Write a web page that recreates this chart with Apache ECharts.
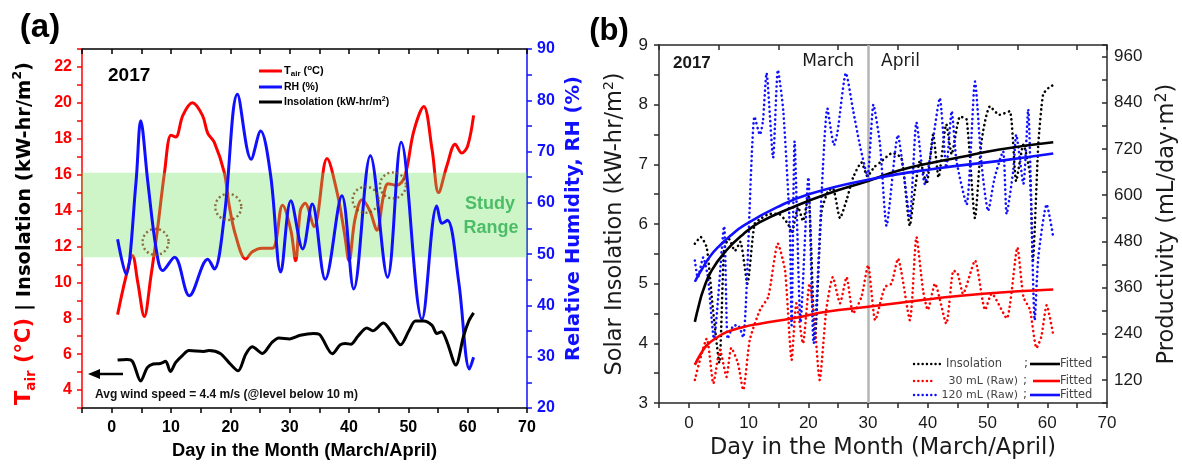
<!DOCTYPE html>
<html>
<head>
<meta charset="utf-8">
<script src="https://cdn.jsdelivr.net/npm/echarts@6/dist/echarts.min.js"></script>
<style>
  html, body { margin: 0; padding: 0; background: #fff; }
  #chart { width: 1182px; height: 465px; }
</style>
</head>
<body>
<div id="chart"></div>
<script>
// ---------- Panel (a): daily weather, March/April 2017 ----------
const tairDays = [1, 2.4, 3.5, 4.4, 5.5, 6.6, 7.7, 8.9, 10, 10.8,
  12, 13.6, 15.3, 16.2, 17.3, 19, 19.8, 20.9, 22.6, 23.7,
  25.3, 27.1, 28.8, 30.2, 31, 31.8, 32.6, 34.1, 36.3, 38,
  39.3, 40, 41, 42.2, 43.5, 44.7, 45.8, 46.6, 48, 49.4,
  50.9, 52.6, 54, 55.1, 56.5, 57.9, 59, 60, 61];
const tairC = [8.2, 10.3, 11.5, 10.0, 8.1, 10.3, 12.9, 16.1, 18.2, 18.1,
  19.3, 20.0, 19.3, 18.3, 17.8, 16.1, 14.3, 12.6, 11.3, 11.7,
  11.9, 11.9, 14.3, 12.9, 11.2, 14.0, 14.4, 13.1, 16.9, 15.0,
  12.6, 11.2, 13.5, 14.6, 14.0, 12.9, 14.8, 15.5, 15.4, 15.9,
  18.4, 19.8, 17.4, 15.0, 16.5, 17.7, 17.2, 17.6, 19.3];

const rhDays = [1, 2.4, 4.1, 4.9, 6.1, 7.5, 8.6, 10.6, 13.1, 16.2,
  17.3, 19, 21.2, 23.5, 25.1, 26.8, 28.5, 30.2, 32.2, 33.8,
  36, 38.8, 40.8, 43.6, 46.5, 48.8, 52.3, 54.8, 55.7, 56.6,
  58.5, 60.3, 61];
const rhPct = [52.9, 46.1, 64, 76, 64, 51, 46.8, 49.4, 41.9, 49,
  47.1, 57.5, 81.2, 68.5, 74, 65.3, 46.5, 60.4, 51, 59.8,
  45.1, 61.4, 43.2, 69.2, 45.5, 71.8, 37.3, 59.4, 56.0, 56.6,
  44.5, 27.6, 29.9];

const insolDaysA = [1, 2.5, 3.5, 4.9, 6, 7, 8.2, 9.1, 9.9, 10.8,
  12, 13, 15.5, 16.4, 18.3, 20, 21.3, 22.6, 23.7, 25.4,
  27, 28.2, 30, 31.8, 34, 35, 37.2, 38.5, 39.4, 40.3,
  41.5, 43, 44, 45.8, 47.2, 48.7, 50.1, 51.2, 52.6, 54,
  54.8, 55.6, 56.5, 58, 59.3, 60.2, 61];
const insolA = [5.67, 5.7, 5.6, 4.5, 5.25, 5.45, 5.48, 5.6, 5.03, 5.54,
  5.95, 6.2, 6.15, 6.2, 6.04, 5.45, 5.07, 6.0, 6.41, 6.04,
  6.65, 6.9, 6.85, 7.05, 7.15, 7.1, 6.02, 6.52, 6.6, 6.55,
  7.0, 7.46, 7.3, 7.74, 7.2, 6.52, 7.3, 7.84, 7.84, 7.6,
  7.15, 7.25, 6.7, 5.4, 7.0, 7.85, 8.3];

const studyRange = [11.4, 16.1];              // shaded band, left-axis units
const circledDays = [7.4, 19.65, 42.8, 47.4]; // highlighted crossings
const circledVals = [12.25, 14.2, 14.6, 15.4];

// ---------- Panel (b): insolation vs. productivity ----------
const insolRawDays = [1, 2, 3, 4, 5.1, 5.9, 6.7, 7.7, 8.6, 9.8,
  11, 12.2, 13.5, 15, 16.6, 17.2, 18.3, 19.1, 20, 21.1,
  22.2, 23.3, 24.1, 25.3, 26.4, 27.5, 28.9, 29.9, 31, 32,
  34.1, 35.6, 37, 37.6, 38.7, 39.8, 40.9, 41.8, 43.1, 44,
  45.4, 46.5, 47.9, 49, 50.4, 52, 53.7, 54.8, 56, 57.1,
  57.6, 58.5, 59.3, 60.2, 61];
const insolRaw = [5.67, 5.78, 5.6, 4.6, 3.67, 5.58, 5.75, 5.55, 5.7, 5.0,
  6.0, 6.1, 6.17, 6.17, 6.0, 5.85, 6.28, 6.05, 6.5, 4.05,
  6.2, 6.55, 6.6, 6.1, 6.4, 6.78, 7.03, 6.8, 6.95, 7.03,
  7.19, 7.1, 5.97, 6.39, 7.06, 6.67, 7.5, 6.78, 7.67, 7.17,
  7.8, 7.75, 6.1, 7.39, 7.97, 7.83, 7.89, 6.72, 7.33, 6.83,
  5.39, 7.33, 8.17, 8.28, 8.33];

const ml30Days = [1, 3, 4.1, 5.2, 6.3, 7.1, 8.2, 9.1, 10.2, 11.9,
  13.3, 14.9, 16.1, 17.2, 18, 19.1, 20.2, 21, 21.9, 23,
  24.1, 25.3, 26.4, 27.5, 28.9, 30, 31.2, 32.8, 33.9, 35,
  37, 38.1, 39.2, 40, 41.2, 43.1, 44.3, 45, 45.9, 47.9,
  49.6, 50.7, 53.2, 55, 56, 57.1, 58.2, 59, 59.9, 61];
const ml30Raw = [120, 227, 111, 198, 128, 203, 164, 94, 224, 302,
  336, 474, 404, 172, 319, 215, 370, 275, 120, 302,
  387, 319, 387, 293, 336, 418, 275, 361, 370, 435,
  275, 491, 353, 302, 370, 266, 404, 396, 344, 430,
  302, 344, 280, 464, 336, 302, 203, 232, 314, 237];

const ml120Days = [1, 1.5, 2.4, 3.2, 4.2, 5.9, 6.5, 7.4, 8.2, 9.1,
  11, 11.9, 12.4, 13, 14.1, 14.9, 15.8, 16.9, 17.2, 17.7,
  18.7, 20, 20.9, 23.2, 24.3, 24.9, 26.3, 27.5, 28.6, 29.9,
  30.9, 32, 33.1, 35, 35.9, 37, 38.1, 39.5, 40.9, 42,
  43.1, 44, 44.8, 46.5, 47.9, 49, 50.1, 51.2, 52.6, 53.2,
  54.3, 54.8, 56, 56.8, 57.9, 58.5, 59.9, 61];
const ml120Raw = [430, 386, 438, 386, 227, 519, 227, 260, 262, 230,
  804, 757, 792, 917, 697, 925, 820, 516, 262, 740,
  270, 646, 215, 825, 730, 765, 917, 820, 732, 649,
  835, 732, 520, 756, 665, 541, 789, 629, 748, 852,
  671, 818, 689, 576, 895, 680, 559, 646, 714, 551,
  663, 757, 629, 823, 275, 438, 576, 491];

const fitInsolDays = [1, 1.7, 2.4, 3.8, 6.3, 9.1, 11.9, 17.4, 23, 30, 35.3, 40.9, 46.5, 52, 61];
const fitInsol = [4.36, 4.65, 4.89, 5.22, 5.56, 5.83, 6.03, 6.28, 6.5, 6.72, 6.9, 7.03, 7.14, 7.25, 7.37];
const fit30Days = [1, 2, 3, 4.5, 6.3, 9, 11.9, 17.4, 23, 30, 40.9, 49.3, 61];
const fit30 = [159, 188, 210, 228, 244, 257, 266, 280, 297, 310, 331, 344, 355];
const fit120Days = [1, 1.7, 2.4, 3.5, 4.9, 7, 9.1, 14.7, 20.2, 30, 40.9, 52, 61];
const fit120 = [375, 395, 413, 440, 465, 495, 520, 568, 603, 640, 668, 689, 708];

const monthSplitDay = 30;

// ---------- helpers ----------
const FONT = '"Liberation Sans", Arial, Helvetica, sans-serif';
const WIDE = '"DejaVu Sans", Verdana, sans-serif';
const RED = '#ff0000', BLUE = '#1010ff', INK = '#000000', GREY = '#2a2a2a';
const zip = (xs, ys) => xs.map((x, i) => [x, ys[i]]);
const dotted = [0.1, 4.6];

function xAxisBottom(gridIndex, opts) {
  return Object.assign({
    gridIndex, type: 'value', min: -5, max: 70, interval: 5, position: 'bottom',
    axisLine: { onZero: false, lineStyle: { color: INK, width: 1.5 } },
    axisTick: { inside: false, length: 5, lineStyle: { color: INK, width: 1.5 } },
    splitLine: { show: false },
    nameLocation: 'middle'
  }, opts);
}
function xAxisTop(gridIndex, interval, color) {
  return {
    gridIndex, type: 'value', min: -5, max: 70, interval, position: 'top',
    axisLine: { onZero: false, lineStyle: { color, width: 1.5 } },
    axisTick: { inside: true, length: 5, lineStyle: { color, width: 1.5 } },
    axisLabel: { show: false }, splitLine: { show: false }
  };
}

const chart = echarts.init(document.getElementById('chart'), null, { renderer: 'canvas' });

const option = {
  backgroundColor: '#ffffff',
  animation: false,
  textStyle: { fontFamily: FONT },
  grid: [
    { left: 82, top: 49, width: 445, height: 359 },
    { left: 659, top: 45, width: 448, height: 360 }
  ],
  xAxis: [
    xAxisBottom(0, {
      axisLabel: { margin: 12, color: INK, fontSize: 16, fontWeight: 'bold', fontFamily: FONT,
        formatter: v => (v % 10 === 0 ? String(v) : '') },
      name: 'Day in the Month (March/April)', nameGap: 34,
      nameTextStyle: { color: INK, fontSize: 18.3, fontWeight: 'bold', fontFamily: FONT }
    }),
    xAxisTop(0, 5, INK),
    xAxisBottom(1, {
      axisLine: { onZero: false, lineStyle: { color: GREY, width: 1.5 } },
      axisTick: { length: 5, lineStyle: { color: GREY, width: 1.5 } },
      axisLabel: { margin: 12, color: '#1a1a1a', fontSize: 17, fontFamily: FONT,
        formatter: v => (v % 10 === 0 ? String(v) : '') },
      name: 'Day in the Month (March/April)', nameGap: 34,
      nameTextStyle: { color: '#1a1a1a', fontSize: 22.5, fontFamily: WIDE }
    }),
    xAxisTop(1, 10, GREY)
  ],
  yAxis: [
    {
      gridIndex: 0, type: 'value', min: 3, max: 23, interval: 1, position: 'left',
      axisLine: { show: true, onZero: false, lineStyle: { color: RED, width: 1.5 } },
      axisTick: { show: true, length: 5, lineStyle: { color: RED, width: 1.5 } },
      axisLabel: { margin: 10, color: RED, fontSize: 16, fontWeight: 'bold', fontFamily: FONT,
        formatter: v => (v % 2 === 0 ? String(v) : '') },
      splitLine: { show: false },
      name: '{r|T}{rs|air}{r| (°C)}{k| | Insolation (kW-hr/m}{ks|2}{k|)}',
      nameLocation: 'middle', nameRotate: 90, nameGap: 44,
      nameTextStyle: {
        padding: [0, 10, 0, 0],
        rich: {
          r: { color: RED, fontSize: 21, fontWeight: 'bold', fontFamily: WIDE, lineHeight: 27 },
          rs: { color: RED, fontSize: 13.5, fontWeight: 'bold', fontFamily: WIDE, lineHeight: 14, verticalAlign: 'bottom' },
          k: { color: INK, fontSize: 19.5, fontWeight: 'bold', fontFamily: WIDE, lineHeight: 27 },
          ks: { color: INK, fontSize: 12.5, fontWeight: 'bold', fontFamily: WIDE, lineHeight: 13, verticalAlign: 'top' }
        }
      }
    },
    {
      gridIndex: 0, type: 'value', min: 20, max: 90, interval: 5, position: 'right',
      axisLine: { show: true, onZero: false, lineStyle: { color: BLUE, width: 1.5 } },
      axisTick: { show: true, length: 5, lineStyle: { color: BLUE, width: 1.5 } },
      axisLabel: { margin: 10, color: BLUE, fontSize: 16, fontWeight: 'bold', fontFamily: FONT,
        formatter: v => (v % 10 === 0 ? String(v) : '') },
      splitLine: { show: false },
      name: 'Relative Humidity, RH (%)', nameLocation: 'middle', nameRotate: 90, nameGap: 37,
      nameTextStyle: { color: BLUE, fontSize: 19.5, fontWeight: 'bold', fontFamily: WIDE, padding: [0, 0, 0, 20] }
    },
    {
      gridIndex: 1, type: 'value', min: 3, max: 9, interval: 0.5, position: 'left',
      axisLine: { show: true, onZero: false, lineStyle: { color: GREY, width: 1.5 } },
      axisTick: { show: true, length: 5, lineStyle: { color: GREY, width: 1.5 } },
      axisLabel: { margin: 11, color: '#1a1a1a', fontSize: 17, fontFamily: FONT,
        formatter: v => (Number.isInteger(v) ? String(v) : '') },
      splitLine: { show: false },
      name: '{n|Solar Insolation (kW-hr/m}{s|2}{n|)}',
      nameLocation: 'middle', nameRotate: 90, nameGap: 31,
      nameTextStyle: {
        rich: {
          n: { color: '#1a1a1a', fontSize: 22.5, fontFamily: WIDE, lineHeight: 26 },
          s: { color: '#1a1a1a', fontSize: 14, fontFamily: WIDE, lineHeight: 14, verticalAlign: 'top' }
        }
      }
    },
    {
      gridIndex: 1, type: 'value', min: 60, max: 990, interval: 60, position: 'right',
      axisLine: { show: true, onZero: false, lineStyle: { color: GREY, width: 1.5 } },
      axisTick: { show: true, inside: true, length: 5, lineStyle: { color: GREY, width: 1.5 } },
      axisLabel: { margin: 7, color: '#1a1a1a', fontSize: 17, fontFamily: FONT,
        formatter: v => (v % 120 === 0 ? String(v) : '') },
      splitLine: { show: false },
      name: '{n|Productivity (mL/day·m}{s|2}{n|)}',
      nameLocation: 'middle', nameRotate: 90, nameGap: 47,
      nameTextStyle: {
        rich: {
          n: { color: '#1a1a1a', fontSize: 22.5, fontFamily: WIDE, lineHeight: 26 },
          s: { color: '#1a1a1a', fontSize: 16, fontFamily: WIDE, lineHeight: 16, verticalAlign: 'top' }
        }
      }
    }
  ],
  series: [
    // ----- panel (a) -----
    {
      name: 'Tair', type: 'line', xAxisIndex: 0, yAxisIndex: 0, z: 2,
      data: zip(tairDays, tairC), smooth: 0.35, showSymbol: false,
      lineStyle: { color: RED, width: 3 }
    },
    {
      name: 'Study range', type: 'line', xAxisIndex: 0, yAxisIndex: 0, z: 3, data: [],
      markArea: {
        silent: true, z: 3,
        itemStyle: { color: 'rgba(112,226,98,0.35)' },
        data: [[{ yAxis: studyRange[0] }, { yAxis: studyRange[1] }]]
      }
    },
    {
      name: 'RH', type: 'line', xAxisIndex: 0, yAxisIndex: 1, z: 4,
      data: zip(rhDays, rhPct), smooth: 0.35, showSymbol: false,
      lineStyle: { color: BLUE, width: 3 }
    },
    {
      name: 'Insolation', type: 'line', xAxisIndex: 0, yAxisIndex: 0, z: 4,
      data: zip(insolDaysA, insolA), smooth: 0.3, showSymbol: false,
      lineStyle: { color: INK, width: 3 }
    },
    {
      name: 'Marked points', type: 'scatter', xAxisIndex: 0, yAxisIndex: 0, z: 6,
      data: zip(circledDays, circledVals), symbol: 'circle', symbolSize: 26,
      itemStyle: { color: 'rgba(0,0,0,0)', borderColor: '#7a4a1e', borderWidth: 2.4, borderType: [2, 2.6] }
    },
    // ----- panel (b) -----
    {
      name: 'Month divider', type: 'line', xAxisIndex: 2, yAxisIndex: 2, z: 1, data: [],
      markLine: {
        silent: true, z: 1, symbol: ['none', 'none'], label: { show: false },
        lineStyle: { color: '#b4b4b4', width: 2.5, type: 'solid' },
        data: [{ xAxis: monthSplitDay }]
      }
    },
    {
      name: 'Insolation raw', type: 'line', xAxisIndex: 2, yAxisIndex: 2, z: 3,
      data: zip(insolRawDays, insolRaw), smooth: 0.2, showSymbol: false,
      lineStyle: { color: INK, width: 2.6, type: dotted, cap: 'round' }
    },
    {
      name: '30 mL raw', type: 'line', xAxisIndex: 2, yAxisIndex: 3, z: 3,
      data: zip(ml30Days, ml30Raw), smooth: 0.2, showSymbol: false,
      lineStyle: { color: RED, width: 2.6, type: dotted, cap: 'round' }
    },
    {
      name: '120 mL raw', type: 'line', xAxisIndex: 2, yAxisIndex: 3, z: 3,
      data: zip(ml120Days, ml120Raw), smooth: 0.2, showSymbol: false,
      lineStyle: { color: BLUE, width: 2.6, type: dotted, cap: 'round' }
    },
    {
      name: 'Insolation fitted', type: 'line', xAxisIndex: 2, yAxisIndex: 2, z: 4,
      data: zip(fitInsolDays, fitInsol), smooth: 0.5, showSymbol: false,
      lineStyle: { color: INK, width: 2.6 }
    },
    {
      name: '30 mL fitted', type: 'line', xAxisIndex: 2, yAxisIndex: 3, z: 4,
      data: zip(fit30Days, fit30), smooth: 0.5, showSymbol: false,
      lineStyle: { color: RED, width: 2.6 }
    },
    {
      name: '120 mL fitted', type: 'line', xAxisIndex: 2, yAxisIndex: 3, z: 4,
      data: zip(fit120Days, fit120), smooth: 0.5, showSymbol: false,
      lineStyle: { color: BLUE, width: 2.6 }
    }
  ],
  graphic: [
    // panel letters
    { type: 'text', x: 40, y: 28, style: { text: '(a)', font: 'bold 33px ' + FONT, fill: INK, align: 'center', verticalAlign: 'middle' } },
    { type: 'text', x: 609, y: 31, style: { text: '(b)', font: 'bold 31px ' + FONT, fill: INK, align: 'center', verticalAlign: 'middle' } },
    // panel (a) labels
    { type: 'text', x: 108, y: 76, style: { text: '2017', font: 'bold 19px ' + FONT, fill: INK, align: 'left', verticalAlign: 'middle' } },
    { type: 'line', shape: { x1: 259, y1: 71, x2: 282, y2: 71 }, style: { stroke: RED, lineWidth: 3 } },
    { type: 'line', shape: { x1: 259, y1: 87, x2: 282, y2: 87 }, style: { stroke: BLUE, lineWidth: 3 } },
    { type: 'line', shape: { x1: 259, y1: 102, x2: 282, y2: 102 }, style: { stroke: INK, lineWidth: 3 } },
    { type: 'text', x: 284, y: 71, style: {
        text: '{a|T}{b|air}{a| (}{c|o}{a|C)}', align: 'left', verticalAlign: 'middle',
        rich: {
          a: { font: 'bold 11px ' + FONT, fill: INK, lineHeight: 14 },
          b: { font: 'bold 8px ' + FONT, fill: INK, lineHeight: 9, verticalAlign: 'bottom' },
          c: { font: 'bold 8px ' + FONT, fill: INK, lineHeight: 9, verticalAlign: 'top' }
        } } },
    { type: 'text', x: 284, y: 87, style: { text: 'RH (%)', font: 'bold 10.5px ' + FONT, fill: INK, align: 'left', verticalAlign: 'middle' } },
    { type: 'text', x: 284, y: 102, style: {
        text: '{a|Insolation (kW-hr/m}{s|2}{a|)}', align: 'left', verticalAlign: 'middle',
        rich: {
          a: { font: 'bold 10.5px ' + FONT, fill: INK, lineHeight: 13 },
          s: { font: 'bold 7px ' + FONT, fill: INK, lineHeight: 8, verticalAlign: 'top' }
        } } },
    { type: 'text', x: 490, y: 204, style: { text: 'Study', font: 'bold 18px ' + FONT, fill: '#3aaa6a', align: 'center', verticalAlign: 'middle' } },
    { type: 'text', x: 491, y: 228, style: { text: 'Range', font: 'bold 18px ' + FONT, fill: '#3aaa6a', align: 'center', verticalAlign: 'middle' } },
    { type: 'line', shape: { x1: 123, y1: 374, x2: 97, y2: 374 }, style: { stroke: INK, lineWidth: 2.5 } },
    { type: 'polygon', shape: { points: [[88, 374], [100, 369], [100, 379]] }, style: { fill: INK } },
    { type: 'text', x: 95, y: 395, style: { text: 'Avg wind speed = 4.4 m/s (@level below 10 m)', font: 'bold 12px ' + FONT, fill: '#111', align: 'left', verticalAlign: 'middle' } },
    // panel (b) labels
    { type: 'text', x: 673, y: 63, style: { text: '2017', font: 'bold 17px ' + FONT, fill: '#1a1a1a', align: 'left', verticalAlign: 'middle' } },
    { type: 'text', x: 854, y: 62, style: { text: 'March', font: '17px ' + WIDE, fill: '#1a1a1a', align: 'right', verticalAlign: 'middle' } },
    { type: 'text', x: 881, y: 62, style: { text: 'April', font: '17px ' + WIDE, fill: '#1a1a1a', align: 'left', verticalAlign: 'middle' } },
    // panel (b) legend
    { type: 'line', shape: { x1: 914, y1: 364, x2: 943, y2: 364 }, style: { stroke: INK, lineWidth: 2.4, lineDash: [0.1, 4.2], lineCap: 'round' } },
    { type: 'line', shape: { x1: 914, y1: 381, x2: 934, y2: 381 }, style: { stroke: RED, lineWidth: 2.4, lineDash: [0.1, 4.2], lineCap: 'round' } },
    { type: 'line', shape: { x1: 914, y1: 395, x2: 936, y2: 395 }, style: { stroke: BLUE, lineWidth: 2.4, lineDash: [0.1, 4.2], lineCap: 'round' } },
    { type: 'text', x: 946, y: 364, style: { text: 'Insolation', font: '11.5px ' + WIDE, fill: '#444', align: 'left', verticalAlign: 'middle' } },
    { type: 'text', x: 1018, y: 381, style: { text: '30 mL (Raw)', font: '11px ' + WIDE, fill: '#444', align: 'right', verticalAlign: 'middle' } },
    { type: 'text', x: 1018, y: 395, style: { text: '120 mL (Raw)', font: '11px ' + WIDE, fill: '#444', align: 'right', verticalAlign: 'middle' } },
    { type: 'text', x: 1026, y: 364, style: { text: ';', font: '12px ' + WIDE, fill: '#444', align: 'center', verticalAlign: 'middle' } },
    { type: 'text', x: 1025, y: 381, style: { text: ';', font: '12px ' + WIDE, fill: '#444', align: 'center', verticalAlign: 'middle' } },
    { type: 'text', x: 1025, y: 395, style: { text: ';', font: '12px ' + WIDE, fill: '#444', align: 'center', verticalAlign: 'middle' } },
    { type: 'line', shape: { x1: 1030, y1: 364, x2: 1060, y2: 364 }, style: { stroke: INK, lineWidth: 2.6 } },
    { type: 'line', shape: { x1: 1033, y1: 381, x2: 1060, y2: 381 }, style: { stroke: RED, lineWidth: 2.6 } },
    { type: 'line', shape: { x1: 1030, y1: 395, x2: 1060, y2: 395 }, style: { stroke: BLUE, lineWidth: 2.6 } },
    { type: 'text', x: 1060, y: 364, style: { text: 'Fitted', font: '11.5px ' + WIDE, fill: '#444', align: 'left', verticalAlign: 'middle' } },
    { type: 'text', x: 1060, y: 381, style: { text: 'Fitted', font: '11.5px ' + WIDE, fill: '#444', align: 'left', verticalAlign: 'middle' } },
    { type: 'text', x: 1060, y: 395, style: { text: 'Fitted', font: '11.5px ' + WIDE, fill: '#444', align: 'left', verticalAlign: 'middle' } }
  ]
};

chart.setOption(option);
</script>
</body>
</html>
